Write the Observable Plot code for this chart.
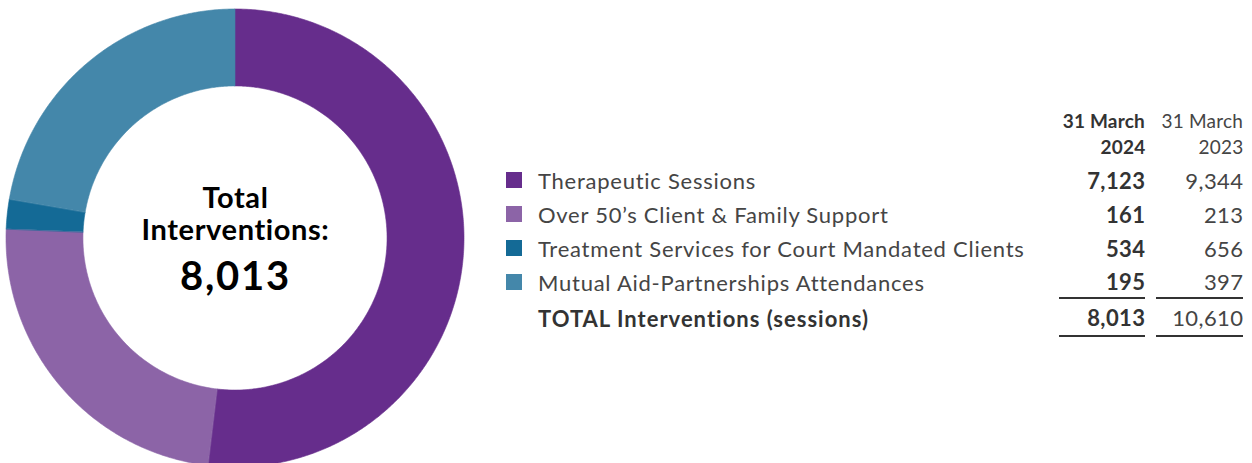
<!DOCTYPE html>
<html><head><meta charset="utf-8">
<script src="https://cdn.jsdelivr.net/npm/d3@7"></script>
<script src="https://cdn.jsdelivr.net/npm/@observablehq/plot@0.6"></script>
<style>
html,body{margin:0;padding:0;background:#fff;}
#wrap{position:relative;width:1252px;height:463px;overflow:hidden;font-family:Lato,"Open Sans",sans-serif;}
#donut{position:absolute;left:0;top:0;}
#table{position:absolute;left:506px;top:108px;}
.row{display:flex;align-items:center;}
.sw{width:16px;height:16px;margin-right:16px;flex:none;}
.lab{width:521px;flex:none;font-size:22px;letter-spacing:0.75px;color:#454545;white-space:nowrap;}
.v1{width:86px;flex:none;text-align:right;font-size:22px;font-weight:700;color:#333;letter-spacing:0.4px;}
.gap{width:11px;flex:none;}
.v2{width:87px;flex:none;text-align:right;font-size:22px;color:#454545;letter-spacing:0.4px;}
.v1 span,.v2 span{margin-right:-0.4px;}
.head .v1,.head .v2{font-size:19px;line-height:26px;letter-spacing:0.2px;}
.line{border-bottom:2px solid #333;}
</style>
</head><body>
<div id="wrap"><div id="donut"></div><div id="table"></div></div>
<script>
// ---- data ----
const categories = ["Therapeutic Sessions", "Over 50’s Client & Family Support", "Treatment Services for Court Mandated Clients", "Mutual Aid-Partnerships Attendances"];
const values2024 = [7123, 161, 534, 195];
const values2023 = [9344, 213, 656, 397];
const columnHeaders = [["31 March", "2024"], ["31 March", "2023"]];
const totalLabel = "TOTAL Interventions (sessions)";
const centerLines = ["Total", "Interventions:"];
// slice sizes as drawn in the donut (share of the full circle, %)
const sliceShares = [51.9, 23.75, 2.08, 22.28];
const colors = ["#662d8c", "#8c64a7", "#146a96", "#4487aa"];

const fmt = d3.format(",");
const total2024 = d3.sum(values2024);
const total2023 = d3.sum(values2023);

// ---- donut geometry from shares ----
const innerRatio = 0.664;
const cum = d3.cumsum(sliceShares);
const shareSum = d3.sum(sliceShares);
const arcPts = categories.flatMap((c, i) => {
  const a0 = (i ? cum[i - 1] : 0) / shareSum * 2 * Math.PI;
  const a1 = cum[i] / shareSum * 2 * Math.PI;
  const n = Math.max(2, Math.ceil((a1 - a0) / (Math.PI / 360)));
  return d3.range(n + 1).map(k => {
    const a = a0 + (a1 - a0) * k / n;
    return {category: c, ox: Math.sin(a), oy: Math.cos(a), ix: innerRatio * Math.sin(a), iy: innerRatio * Math.cos(a)};
  });
});

const chart = Plot.plot({
  width: 470, height: 463,
  marginTop: 13, marginBottom: 0, marginLeft: 0, marginRight: 0,
  x: {domain: [-1, 1], range: [6, 464], axis: null},
  y: {domain: [-1, 1], range: [467, 9], axis: null},
  color: {domain: categories, range: colors},
  style: {fontFamily: "Lato, sans-serif", background: "transparent"},
  marks: [
    Plot.area(arcPts, {x1: "ox", y1: "oy", x2: "ix", y2: "iy", z: "category", fill: "category", stroke: "category", strokeWidth: 0.6, curve: "linear"}),
    Plot.text([centerLines[0]], {frameAnchor: "middle", text: d => d, dy: -31, lineAnchor: "bottom", fontSize: 29, fontWeight: 700, fill: "#000"}),
    Plot.text([centerLines[1]], {frameAnchor: "middle", text: d => d, dy: 1, lineAnchor: "bottom", fontSize: 29, fontWeight: 700, fill: "#000"}),
    Plot.text([total2024], {frameAnchor: "middle", text: d => fmt(d), dy: 51, lineAnchor: "bottom", fontSize: 40, fontWeight: 700, fill: "#000"})
  ]
});
d3.select(chart).selectAll("text").each(function() {
  const s = d3.select(this).text();
  d3.select(this).style("letter-spacing", s === fmt(total2024) ? "1.8px" : "0.6px");
});
document.getElementById("donut").appendChild(chart);

// ---- legend / table ----
const colorScale = chart.scale("color");
const tbl = document.getElementById("table");
function cellFlex(e, justify) { e.style.display = "flex"; e.style.alignItems = "center"; e.style.justifyContent = justify; }
function row(cls, height, sw, label, v1, v2, underline) {
  const r = document.createElement("div");
  r.className = "row " + cls;
  r.style.height = height + "px";
  const s = document.createElement("div"); s.className = "sw"; if (sw) s.style.background = sw; r.appendChild(s);
  const l = document.createElement("div"); l.className = "lab"; l.innerHTML = label; r.appendChild(l);
  const a = document.createElement("div"); a.className = "v1"; a.innerHTML = "<span>" + v1 + "</span>"; r.appendChild(a);
  const g = document.createElement("div"); g.className = "gap"; r.appendChild(g);
  const b = document.createElement("div"); b.className = "v2"; b.innerHTML = "<span>" + v2 + "</span>"; r.appendChild(b);
  if (underline) {
    r.style.alignItems = "stretch";
    s.style.alignSelf = "center";
    cellFlex(l, "flex-start"); cellFlex(a, "flex-end"); cellFlex(b, "flex-end");
    a.classList.add("line"); b.classList.add("line");
  }
  tbl.appendChild(r);
  return r;
}
row("head", 52, null, "", columnHeaders[0].join("<br>"), columnHeaders[1].join("<br>"), false);
const sp = document.createElement("div"); sp.style.height = "3px"; tbl.appendChild(sp);
categories.forEach((c, i) => {
  row("", 34, colorScale.apply(c), c, fmt(values2024[i]), fmt(values2023[i]), i === categories.length - 1);
});
row("total", 38, null, "<b style='color:#333;letter-spacing:1px'>" + totalLabel + "</b>", fmt(total2024), fmt(total2023), true);
</script>
</body></html>
